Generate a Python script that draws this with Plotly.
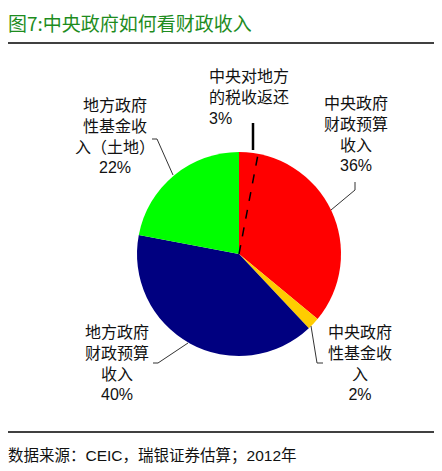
import math
import plotly.graph_objects as go

W, H = 442, 471
OFF = 8  # page body margin offset

# ---- data ----
categories = ["中央政府财政预算收入", "中央政府性基金收入", "地方政府财政预算收入", "地方政府性基金收入（土地）"]
shares = [36, 2, 40, 22]
colors = ["#FF0000", "#FFCC00", "#000080", "#00FF00"]
label_texts = ["中央政府<br>财政预算<br>收入<br>36%",
               "中央政府<br>性基金收<br>入<br>2%",
               "地方政府<br>财政预算<br>收入<br>40%",
               "地方政府<br>性基金收<br>入（土地）<br>22%"]
sub_label = "中央对地方<br>的税收返还<br>3%"
sub_share = 3  # part of the central budget revenue slice

title_text = "图7:中央政府如何看财政收入"
source_text = "数据来源：CEIC，瑞银证券估算；2012年"

# ---- layout geometry (screen pixels) ----
cx, cy, r = 239, 254, 102


def px(x):
    return (x - OFF) / W


def py(y):
    return 1 - (y - OFF) / H


fig = go.Figure(go.Pie(
    labels=categories,
    values=shares,
    marker=dict(colors=colors, line=dict(width=0)),
    sort=False,
    direction="clockwise",
    rotation=0,
    textinfo="none",
    hoverinfo="label+percent",
    showlegend=False,
    domain=dict(x=[px(cx - r), px(cx + r)], y=[py(cy + r), py(cy - r)]),
))

FONT = "Liberation Sans, Noto Sans CJK SC, sans-serif"
TXT = "#111111"

annotations = [
    dict(text=title_text, x=px(6), y=py(23), xanchor="left", yanchor="middle",
         font=dict(size=19, color="#1E8C1E", family="Noto Sans CJK SC")),
    dict(text=source_text, x=px(6), y=py(455), xanchor="left", yanchor="middle",
         font=dict(size=15.5, color=TXT, family=FONT)),
    dict(text=sub_label, x=px(207), y=py(97.5), xanchor="left", yanchor="middle", align="left",
         font=dict(size=16, color=TXT, family=FONT)),
]
label_pos = [(356, 135), (360, 363), (116.5, 363), (115, 137)]
for t, (lx, ly) in zip(label_texts, label_pos):
    annotations.append(dict(text=t, x=px(lx), y=py(ly), xanchor="center", yanchor="middle",
                            align="center", font=dict(size=16, color=TXT, family=FONT)))
for an in annotations:
    an.update(xref="paper", yref="paper", showarrow=False)

shapes = []
# rules under title and above source
for yy in (43, 432):
    shapes.append(dict(type="line", xref="paper", yref="paper", x0=px(4), x1=px(441),
                       y0=py(yy), y1=py(yy), line=dict(color="black", width=1.5)))

# dashed line marking the 3% portion inside the red slice
a = sub_share / 100 * 2 * math.pi
shapes.append(dict(type="line", xref="paper", yref="paper",
                   x0=px(cx), y0=py(cy), x1=px(cx + r * math.sin(a)), y1=py(cy - r * math.cos(a)),
                   line=dict(color="black", width=1.5, dash="dash")))
# solid pointer for the 3% label
shapes.append(dict(type="line", xref="paper", yref="paper", x0=px(253), x1=px(253),
                   y0=py(123), y1=py(150), line=dict(color="black", width=2.5)))

# leader lines (polylines)
leaders = [
    [(355, 182), (355, 190), (331, 210)],          # red
    [(311, 326), (317, 363), (323, 363)],          # yellow
    [(153, 363), (158, 363), (188, 343)],          # blue
    [(152, 139), (157, 139), (173, 175)],          # green
]
for pts in leaders:
    for (x0, y0), (x1, y1) in zip(pts[:-1], pts[1:]):
        shapes.append(dict(type="line", xref="paper", yref="paper",
                           x0=px(x0), y0=py(y0), x1=px(x1), y1=py(y1),
                           line=dict(color="#333333", width=1)))

fig.update_layout(
    width=W, height=H,
    margin=dict(l=0, r=0, t=0, b=0),
    paper_bgcolor="white", plot_bgcolor="white",
    annotations=annotations,
    shapes=shapes,
)

fig.write_html("out.html")
